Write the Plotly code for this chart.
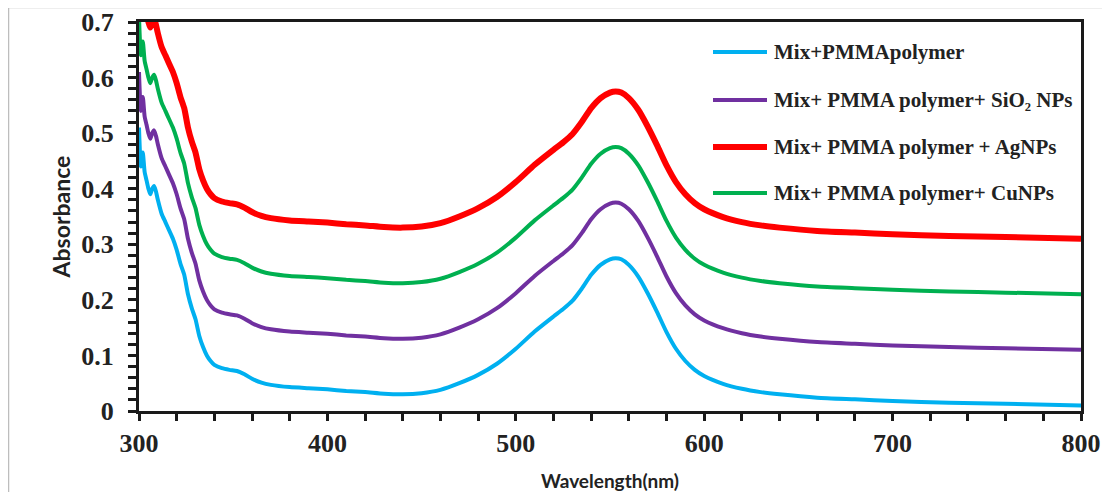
import plotly.graph_objects as go

wavelength = [300, 301, 302, 303, 304, 305, 306, 307, 308, 309, 310, 312, 314, 316, 318, 320, 322, 324,
              326, 328, 330, 332, 334, 336, 338, 340, 344, 348, 352, 356, 360, 365, 370, 380, 390, 400,
              410, 420, 430, 440, 450, 460, 470, 480, 490, 500, 510, 520, 525, 530, 535, 540, 545, 550,
              553, 556, 560, 565, 570, 575, 580, 585, 590, 595, 600, 610, 620, 630, 640, 660, 680, 700,
              730, 760, 800]

pmma = [0.51, 0.44, 0.465, 0.43, 0.415, 0.40, 0.39, 0.40, 0.405, 0.395, 0.38, 0.355, 0.34, 0.325, 0.31,
        0.29, 0.265, 0.245, 0.21, 0.185, 0.165, 0.135, 0.115, 0.10, 0.09, 0.083, 0.077, 0.074, 0.072,
        0.066, 0.058, 0.051, 0.047, 0.043, 0.041, 0.039, 0.036, 0.034, 0.031, 0.030, 0.032, 0.038, 0.050,
        0.065, 0.085, 0.112, 0.143, 0.170, 0.183, 0.198, 0.22, 0.245, 0.263, 0.273, 0.275, 0.273, 0.263,
        0.242, 0.212, 0.178, 0.142, 0.112, 0.090, 0.074, 0.063, 0.049, 0.040, 0.034, 0.030, 0.024, 0.021,
        0.018, 0.015, 0.013, 0.010]

pmma_sio2 = [0.61, 0.54, 0.565, 0.53, 0.515, 0.50, 0.49, 0.50, 0.505, 0.495, 0.48, 0.455, 0.44, 0.425,
             0.41, 0.39, 0.365, 0.345, 0.31, 0.285, 0.265, 0.235, 0.215, 0.20, 0.19, 0.183, 0.177, 0.174,
             0.172, 0.166, 0.158, 0.151, 0.147, 0.143, 0.141, 0.139, 0.136, 0.134, 0.131, 0.130, 0.132,
             0.138, 0.150, 0.165, 0.185, 0.212, 0.243, 0.270, 0.283, 0.298, 0.32, 0.345, 0.363, 0.373,
             0.375, 0.373, 0.363, 0.342, 0.312, 0.278, 0.242, 0.212, 0.190, 0.174, 0.163, 0.149, 0.140,
             0.134, 0.130, 0.124, 0.121, 0.118, 0.115, 0.113, 0.110]

pmma_ag = [0.81, 0.74, 0.765, 0.73, 0.715, 0.70, 0.69, 0.70, 0.705, 0.695, 0.68, 0.655, 0.64, 0.625,
           0.61, 0.59, 0.565, 0.545, 0.51, 0.485, 0.465, 0.435, 0.415, 0.40, 0.39, 0.383, 0.377, 0.374,
           0.372, 0.366, 0.358, 0.351, 0.347, 0.343, 0.341, 0.339, 0.336, 0.334, 0.331, 0.330, 0.332,
           0.338, 0.350, 0.365, 0.385, 0.412, 0.443, 0.470, 0.483, 0.498, 0.52, 0.545, 0.563, 0.573,
           0.575, 0.573, 0.563, 0.542, 0.512, 0.478, 0.442, 0.412, 0.390, 0.374, 0.363, 0.349, 0.340,
           0.334, 0.330, 0.324, 0.321, 0.318, 0.315, 0.313, 0.310]

pmma_cu = [0.71, 0.64, 0.665, 0.63, 0.615, 0.60, 0.59, 0.60, 0.605, 0.595, 0.58, 0.555, 0.54, 0.525,
           0.51, 0.49, 0.465, 0.445, 0.41, 0.385, 0.365, 0.335, 0.315, 0.30, 0.29, 0.283, 0.277, 0.274,
           0.272, 0.266, 0.258, 0.251, 0.247, 0.243, 0.241, 0.239, 0.236, 0.234, 0.231, 0.230, 0.232,
           0.238, 0.250, 0.265, 0.285, 0.312, 0.343, 0.370, 0.383, 0.398, 0.42, 0.445, 0.463, 0.473,
           0.475, 0.473, 0.463, 0.442, 0.412, 0.378, 0.342, 0.312, 0.290, 0.274, 0.263, 0.249, 0.240,
           0.234, 0.230, 0.224, 0.221, 0.218, 0.215, 0.213, 0.210]

series_names = ["Mix+PMMApolymer", "Mix+ PMMA polymer+ SiO\u2082 NPs",
                "Mix+ PMMA polymer + AgNPs", "Mix+ PMMA polymer+ CuNPs"]
series_values = [pmma, pmma_sio2, pmma_ag, pmma_cu]
colors = ["#00B0F0", "#7030A0", "#FF0000", "#00B050"]
widths = [4, 4, 6, 4]

x_ticks = [300, 400, 500, 600, 700, 800]
y_ticks = [0, 0.1, 0.2, 0.3, 0.4, 0.5, 0.6, 0.7]
y_tick_text = ["0", "0.1", "0.2", "0.3", "0.4", "0.5", "0.6", "0.7"]

fig = go.Figure()
for name, vals, col, w in zip(series_names, series_values, colors, widths):
    fig.add_trace(go.Scatter(x=wavelength, y=vals, mode="lines", name=name,
                             line=dict(color=col, width=w, shape="spline", smoothing=0.6),
                             showlegend=False))

# figure sits inside the page's 8px body margin
FW, FH, OFF = 1094, 484, 8
L, T = 131, 14
W, H = 942, 389
R, B = FW - L - W, FH - T - H

def px(xp):  # page pixel -> paper x
    return (xp - OFF - L) / W

def py(yp):  # page pixel -> paper y
    return (T + H - (yp - OFF)) / H

legend_y = [52, 100, 147, 193]
for name, col, w, yy in zip(series_names, colors, widths, legend_y):
    fig.add_shape(type="line", xref="paper", yref="paper", x0=px(713), x1=px(767),
                  y0=py(yy), y1=py(yy), line=dict(color=col, width=w))
    fig.add_annotation(xref="paper", yref="paper", x=px(772), y=py(yy), text=name,
                       showarrow=False, xanchor="left", yanchor="middle",
                       font=dict(family="Liberation Serif", size=21, color="#222222", weight="bold"))

# outer light border
fig.add_shape(type="rect", xref="paper", yref="paper", x0=px(8.5), x1=px(1120),
              y0=py(7.5), y1=py(510), line=dict(color="#BDBDBD", width=1.5))

fig.update_layout(
    width=FW, height=FH,
    margin=dict(l=L, r=R, t=T, b=B),
    paper_bgcolor="white", plot_bgcolor="white",
    xaxis=dict(range=[300, 800], tickvals=x_ticks, showgrid=False, zeroline=False, automargin=False,
               showline=True, linecolor="#1a1a1a", linewidth=3, mirror=True,
               ticks="outside", ticklen=7, tickwidth=2.5, tickcolor="#1a1a1a",
               minor=dict(dtick=20, ticks="outside", ticklen=7, tickwidth=2.5, tickcolor="#1a1a1a"),
               tickfont=dict(family="Liberation Serif", size=26, color="#222222", weight="bold"),
               ticklabelstandoff=0,
               title=dict(text="Wavelength(nm)", standoff=20,
                          font=dict(family="Lato", size=19, color="#222222", weight="bold"))),
    yaxis=dict(range=[0, 0.7], tickvals=y_ticks, ticktext=y_tick_text, showgrid=False, zeroline=False,
               automargin=False,
               showline=True, linecolor="#1a1a1a", linewidth=3, mirror=True,
               ticks="outside", ticklen=8, tickwidth=2.5, tickcolor="#1a1a1a",
               minor=dict(dtick=0.02, ticks="outside", ticklen=8, tickwidth=2.5, tickcolor="#1a1a1a"),
               tickfont=dict(family="Liberation Serif", size=26, color="#222222", weight="bold"),
               ticklabelstandoff=9,
               title=dict(text="Absorbance", standoff=5,
                          font=dict(family="Lato", size=23, color="#222222", weight="bold"))),
)

fig.write_html("out.html")
